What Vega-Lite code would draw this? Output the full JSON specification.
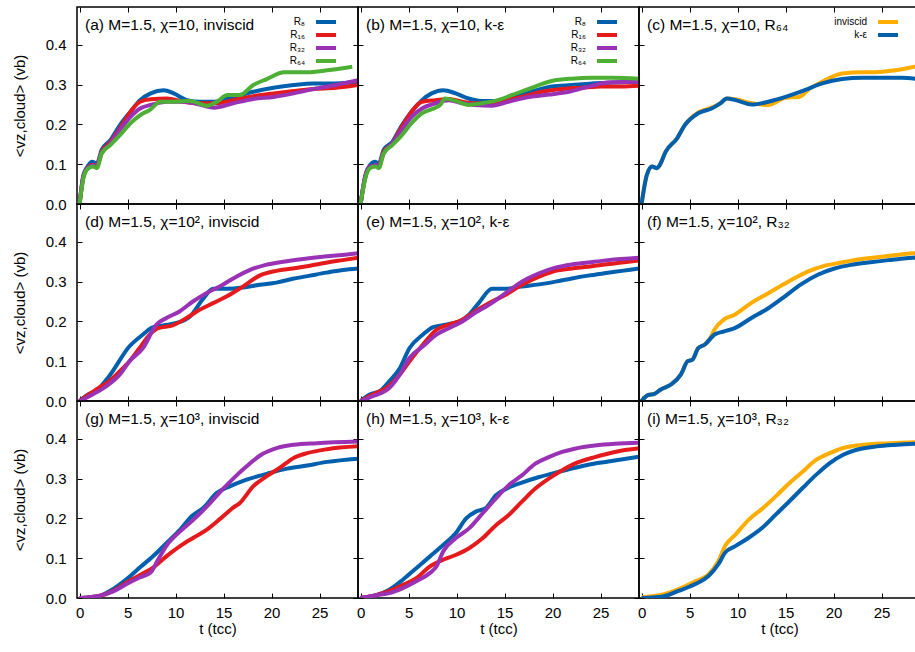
{
"$schema": "https://vega.github.io/schema/vega-lite/v6.json",
"background": "white",
"padding": {"left": 11, "top": 5, "right": 0, "bottom": 0},
"datasets": {"curves": [
{"p":"a","s":"R₈","t":0,"v":0},{"p":"a","s":"R₈","t":0.4,"v":0.073},{"p":"a","s":"R₈","t":0.83,"v":0.094},{"p":"a","s":"R₈","t":1.3,"v":0.106},{"p":"a","s":"R₈","t":1.8,"v":0.102},{"p":"a","s":"R₈","t":2.3,"v":0.136},{"p":"a","s":"R₈","t":3.2,"v":0.16},{"p":"a","s":"R₈","t":4.2,"v":0.198},{"p":"a","s":"R₈","t":5.3,"v":0.232},{"p":"a","s":"R₈","t":6.3,"v":0.261},{"p":"a","s":"R₈","t":7.4,"v":0.278},{"p":"a","s":"R₈","t":8.75,"v":0.286},{"p":"a","s":"R₈","t":9.8,"v":0.278},{"p":"a","s":"R₈","t":11.2,"v":0.261},{"p":"a","s":"R₈","t":12.6,"v":0.257},{"p":"a","s":"R₈","t":14,"v":0.257},{"p":"a","s":"R₈","t":16,"v":0.269},{"p":"a","s":"R₈","t":18.1,"v":0.282},{"p":"a","s":"R₈","t":20.2,"v":0.292},{"p":"a","s":"R₈","t":22.3,"v":0.299},{"p":"a","s":"R₈","t":24.4,"v":0.303},{"p":"a","s":"R₈","t":26.7,"v":0.303},{"p":"a","s":"R₈","t":29,"v":0.307},
{"p":"a","s":"R₁₆","t":0,"v":0},{"p":"a","s":"R₁₆","t":0.4,"v":0.069},{"p":"a","s":"R₁₆","t":0.83,"v":0.09},{"p":"a","s":"R₁₆","t":1.3,"v":0.098},{"p":"a","s":"R₁₆","t":1.8,"v":0.098},{"p":"a","s":"R₁₆","t":2.3,"v":0.131},{"p":"a","s":"R₁₆","t":3.2,"v":0.156},{"p":"a","s":"R₁₆","t":4.2,"v":0.19},{"p":"a","s":"R₁₆","t":5.3,"v":0.232},{"p":"a","s":"R₁₆","t":6.3,"v":0.257},{"p":"a","s":"R₁₆","t":7.4,"v":0.263},{"p":"a","s":"R₁₆","t":9.1,"v":0.265},{"p":"a","s":"R₁₆","t":10.8,"v":0.257},{"p":"a","s":"R₁₆","t":12.6,"v":0.253},{"p":"a","s":"R₁₆","t":14.3,"v":0.253},{"p":"a","s":"R₁₆","t":16,"v":0.261},{"p":"a","s":"R₁₆","t":18.1,"v":0.271},{"p":"a","s":"R₁₆","t":20.2,"v":0.278},{"p":"a","s":"R₁₆","t":22.3,"v":0.284},{"p":"a","s":"R₁₆","t":24.4,"v":0.289},{"p":"a","s":"R₁₆","t":26.7,"v":0.292},{"p":"a","s":"R₁₆","t":29,"v":0.299},
{"p":"a","s":"R₃₂","t":0,"v":0},{"p":"a","s":"R₃₂","t":0.4,"v":0.069},{"p":"a","s":"R₃₂","t":0.83,"v":0.09},{"p":"a","s":"R₃₂","t":1.3,"v":0.097},{"p":"a","s":"R₃₂","t":1.8,"v":0.097},{"p":"a","s":"R₃₂","t":2.3,"v":0.127},{"p":"a","s":"R₃₂","t":3.2,"v":0.152},{"p":"a","s":"R₃₂","t":4.2,"v":0.186},{"p":"a","s":"R₃₂","t":5.3,"v":0.219},{"p":"a","s":"R₃₂","t":6.3,"v":0.24},{"p":"a","s":"R₃₂","t":7.4,"v":0.249},{"p":"a","s":"R₃₂","t":9.1,"v":0.257},{"p":"a","s":"R₃₂","t":10.8,"v":0.257},{"p":"a","s":"R₃₂","t":12.6,"v":0.249},{"p":"a","s":"R₃₂","t":14,"v":0.242},{"p":"a","s":"R₃₂","t":16,"v":0.253},{"p":"a","s":"R₃₂","t":18.1,"v":0.264},{"p":"a","s":"R₃₂","t":20.2,"v":0.269},{"p":"a","s":"R₃₂","t":22.3,"v":0.278},{"p":"a","s":"R₃₂","t":24.4,"v":0.289},{"p":"a","s":"R₃₂","t":26.7,"v":0.299},{"p":"a","s":"R₃₂","t":29,"v":0.311},
{"p":"a","s":"R₆₄","t":0,"v":0},{"p":"a","s":"R₆₄","t":0.4,"v":0.065},{"p":"a","s":"R₆₄","t":0.83,"v":0.088},{"p":"a","s":"R₆₄","t":1.4,"v":0.094},{"p":"a","s":"R₆₄","t":1.8,"v":0.09},{"p":"a","s":"R₆₄","t":2.3,"v":0.127},{"p":"a","s":"R₆₄","t":3.2,"v":0.148},{"p":"a","s":"R₆₄","t":4.2,"v":0.173},{"p":"a","s":"R₆₄","t":5.3,"v":0.203},{"p":"a","s":"R₆₄","t":6.3,"v":0.223},{"p":"a","s":"R₆₄","t":7.4,"v":0.238},{"p":"a","s":"R₆₄","t":8.4,"v":0.257},{"p":"a","s":"R₆₄","t":9.8,"v":0.257},{"p":"a","s":"R₆₄","t":11.5,"v":0.259},{"p":"a","s":"R₆₄","t":13.3,"v":0.247},{"p":"a","s":"R₆₄","t":14.3,"v":0.257},{"p":"a","s":"R₆₄","t":15.4,"v":0.274},{"p":"a","s":"R₆₄","t":16.7,"v":0.274},{"p":"a","s":"R₆₄","t":18.1,"v":0.299},{"p":"a","s":"R₆₄","t":19.5,"v":0.314},{"p":"a","s":"R₆₄","t":21.3,"v":0.331},{"p":"a","s":"R₆₄","t":23.7,"v":0.331},{"p":"a","s":"R₆₄","t":25.8,"v":0.336},{"p":"a","s":"R₆₄","t":28.4,"v":0.345},
{"p":"b","s":"R₈","t":0,"v":0},{"p":"b","s":"R₈","t":0.5,"v":0.073},{"p":"b","s":"R₈","t":1,"v":0.098},{"p":"b","s":"R₈","t":1.5,"v":0.106},{"p":"b","s":"R₈","t":1.9,"v":0.102},{"p":"b","s":"R₈","t":2.4,"v":0.136},{"p":"b","s":"R₈","t":3.3,"v":0.156},{"p":"b","s":"R₈","t":4.3,"v":0.198},{"p":"b","s":"R₈","t":5.3,"v":0.232},{"p":"b","s":"R₈","t":6.4,"v":0.261},{"p":"b","s":"R₈","t":7.4,"v":0.278},{"p":"b","s":"R₈","t":8.6,"v":0.286},{"p":"b","s":"R₈","t":9.9,"v":0.278},{"p":"b","s":"R₈","t":11.25,"v":0.265},{"p":"b","s":"R₈","t":12.6,"v":0.259},{"p":"b","s":"R₈","t":14,"v":0.259},{"p":"b","s":"R₈","t":15.8,"v":0.269},{"p":"b","s":"R₈","t":17.8,"v":0.282},{"p":"b","s":"R₈","t":19.9,"v":0.295},{"p":"b","s":"R₈","t":22,"v":0.299},{"p":"b","s":"R₈","t":24.1,"v":0.303},{"p":"b","s":"R₈","t":26.2,"v":0.305},{"p":"b","s":"R₈","t":29,"v":0.307},
{"p":"b","s":"R₁₆","t":0,"v":0},{"p":"b","s":"R₁₆","t":0.5,"v":0.069},{"p":"b","s":"R₁₆","t":1,"v":0.094},{"p":"b","s":"R₁₆","t":1.9,"v":0.098},{"p":"b","s":"R₁₆","t":2.4,"v":0.131},{"p":"b","s":"R₁₆","t":3.3,"v":0.152},{"p":"b","s":"R₁₆","t":4.3,"v":0.194},{"p":"b","s":"R₁₆","t":5.3,"v":0.232},{"p":"b","s":"R₁₆","t":6.4,"v":0.257},{"p":"b","s":"R₁₆","t":7.8,"v":0.261},{"p":"b","s":"R₁₆","t":9.2,"v":0.264},{"p":"b","s":"R₁₆","t":10.6,"v":0.257},{"p":"b","s":"R₁₆","t":11.9,"v":0.253},{"p":"b","s":"R₁₆","t":13.3,"v":0.253},{"p":"b","s":"R₁₆","t":15.1,"v":0.261},{"p":"b","s":"R₁₆","t":16.8,"v":0.269},{"p":"b","s":"R₁₆","t":18.9,"v":0.282},{"p":"b","s":"R₁₆","t":21,"v":0.289},{"p":"b","s":"R₁₆","t":23,"v":0.292},{"p":"b","s":"R₁₆","t":25.1,"v":0.295},{"p":"b","s":"R₁₆","t":27.2,"v":0.295},{"p":"b","s":"R₁₆","t":29,"v":0.297},
{"p":"b","s":"R₃₂","t":0,"v":0},{"p":"b","s":"R₃₂","t":0.5,"v":0.069},{"p":"b","s":"R₃₂","t":1,"v":0.094},{"p":"b","s":"R₃₂","t":1.9,"v":0.098},{"p":"b","s":"R₃₂","t":2.4,"v":0.127},{"p":"b","s":"R₃₂","t":3.3,"v":0.152},{"p":"b","s":"R₃₂","t":4.3,"v":0.186},{"p":"b","s":"R₃₂","t":5.3,"v":0.219},{"p":"b","s":"R₃₂","t":6.4,"v":0.24},{"p":"b","s":"R₃₂","t":7.8,"v":0.253},{"p":"b","s":"R₃₂","t":9.2,"v":0.261},{"p":"b","s":"R₃₂","t":10.6,"v":0.253},{"p":"b","s":"R₃₂","t":11.9,"v":0.249},{"p":"b","s":"R₃₂","t":13.7,"v":0.247},{"p":"b","s":"R₃₂","t":15.4,"v":0.257},{"p":"b","s":"R₃₂","t":17.5,"v":0.269},{"p":"b","s":"R₃₂","t":19.6,"v":0.275},{"p":"b","s":"R₃₂","t":21.7,"v":0.282},{"p":"b","s":"R₃₂","t":23.75,"v":0.295},{"p":"b","s":"R₃₂","t":25.8,"v":0.305},{"p":"b","s":"R₃₂","t":29,"v":0.307},
{"p":"b","s":"R₆₄","t":0,"v":0},{"p":"b","s":"R₆₄","t":0.5,"v":0.065},{"p":"b","s":"R₆₄","t":1,"v":0.09},{"p":"b","s":"R₆₄","t":1.5,"v":0.094},{"p":"b","s":"R₆₄","t":1.9,"v":0.09},{"p":"b","s":"R₆₄","t":2.4,"v":0.127},{"p":"b","s":"R₆₄","t":3.3,"v":0.148},{"p":"b","s":"R₆₄","t":4.3,"v":0.173},{"p":"b","s":"R₆₄","t":5.3,"v":0.203},{"p":"b","s":"R₆₄","t":6.4,"v":0.228},{"p":"b","s":"R₆₄","t":7.4,"v":0.238},{"p":"b","s":"R₆₄","t":8.3,"v":0.249},{"p":"b","s":"R₆₄","t":8.8,"v":0.265},{"p":"b","s":"R₆₄","t":9.9,"v":0.259},{"p":"b","s":"R₆₄","t":11.25,"v":0.249},{"p":"b","s":"R₆₄","t":12.6,"v":0.253},{"p":"b","s":"R₆₄","t":14,"v":0.259},{"p":"b","s":"R₆₄","t":15.8,"v":0.274},{"p":"b","s":"R₆₄","t":17.8,"v":0.292},{"p":"b","s":"R₆₄","t":19.9,"v":0.309},{"p":"b","s":"R₆₄","t":22,"v":0.315},{"p":"b","s":"R₆₄","t":24.1,"v":0.317},{"p":"b","s":"R₆₄","t":26.2,"v":0.317},{"p":"b","s":"R₆₄","t":29,"v":0.315},
{"p":"c","s":"inviscid","t":0,"v":0},{"p":"c","s":"inviscid","t":0.55,"v":0.073},{"p":"c","s":"inviscid","t":1.1,"v":0.094},{"p":"c","s":"inviscid","t":1.6,"v":0.09},{"p":"c","s":"inviscid","t":1.9,"v":0.098},{"p":"c","s":"inviscid","t":2.5,"v":0.131},{"p":"c","s":"inviscid","t":3.7,"v":0.165},{"p":"c","s":"inviscid","t":4.5,"v":0.198},{"p":"c","s":"inviscid","t":5.9,"v":0.23},{"p":"c","s":"inviscid","t":7.3,"v":0.242},{"p":"c","s":"inviscid","t":8.2,"v":0.253},{"p":"c","s":"inviscid","t":8.9,"v":0.265},{"p":"c","s":"inviscid","t":9.8,"v":0.263},{"p":"c","s":"inviscid","t":11.5,"v":0.253},{"p":"c","s":"inviscid","t":13.2,"v":0.249},{"p":"c","s":"inviscid","t":15,"v":0.267},{"p":"c","s":"inviscid","t":16.4,"v":0.269},{"p":"c","s":"inviscid","t":17.5,"v":0.29},{"p":"c","s":"inviscid","t":18.8,"v":0.307},{"p":"c","s":"inviscid","t":20.9,"v":0.328},{"p":"c","s":"inviscid","t":23,"v":0.331},{"p":"c","s":"inviscid","t":24.3,"v":0.331},{"p":"c","s":"inviscid","t":26.4,"v":0.336},{"p":"c","s":"inviscid","t":28.5,"v":0.345},{"p":"c","s":"inviscid","t":29,"v":0.347},
{"p":"c","s":"k-ε","t":0,"v":0},{"p":"c","s":"k-ε","t":0.55,"v":0.073},{"p":"c","s":"k-ε","t":1.1,"v":0.094},{"p":"c","s":"k-ε","t":1.6,"v":0.09},{"p":"c","s":"k-ε","t":1.9,"v":0.098},{"p":"c","s":"k-ε","t":2.5,"v":0.131},{"p":"c","s":"k-ε","t":3.7,"v":0.165},{"p":"c","s":"k-ε","t":4.5,"v":0.198},{"p":"c","s":"k-ε","t":5.9,"v":0.228},{"p":"c","s":"k-ε","t":7.3,"v":0.24},{"p":"c","s":"k-ε","t":8.2,"v":0.253},{"p":"c","s":"k-ε","t":8.9,"v":0.265},{"p":"c","s":"k-ε","t":9.8,"v":0.261},{"p":"c","s":"k-ε","t":11.5,"v":0.25},{"p":"c","s":"k-ε","t":13.2,"v":0.257},{"p":"c","s":"k-ε","t":15,"v":0.269},{"p":"c","s":"k-ε","t":17,"v":0.286},{"p":"c","s":"k-ε","t":18.8,"v":0.303},{"p":"c","s":"k-ε","t":20.9,"v":0.314},{"p":"c","s":"k-ε","t":23,"v":0.317},{"p":"c","s":"k-ε","t":25,"v":0.317},{"p":"c","s":"k-ε","t":27.1,"v":0.317},{"p":"c","s":"k-ε","t":29,"v":0.313},
{"p":"d","s":"R₈","t":0,"v":0},{"p":"d","s":"R₈","t":1,"v":0.018},{"p":"d","s":"R₈","t":1.7,"v":0.025},{"p":"d","s":"R₈","t":3.1,"v":0.063},{"p":"d","s":"R₈","t":5.2,"v":0.1375},{"p":"d","s":"R₈","t":6.6,"v":0.167},{"p":"d","s":"R₈","t":7.6,"v":0.185},{"p":"d","s":"R₈","t":8.7,"v":0.19},{"p":"d","s":"R₈","t":10.1,"v":0.196},{"p":"d","s":"R₈","t":11.5,"v":0.2125},{"p":"d","s":"R₈","t":12.9,"v":0.258},{"p":"d","s":"R₈","t":13.9,"v":0.282},{"p":"d","s":"R₈","t":15.3,"v":0.282},{"p":"d","s":"R₈","t":17,"v":0.285},{"p":"d","s":"R₈","t":18.75,"v":0.292},{"p":"d","s":"R₈","t":20.5,"v":0.2975},{"p":"d","s":"R₈","t":22.2,"v":0.307},{"p":"d","s":"R₈","t":24,"v":0.315},{"p":"d","s":"R₈","t":25.7,"v":0.3225},{"p":"d","s":"R₈","t":27.4,"v":0.329},{"p":"d","s":"R₈","t":29,"v":0.333},
{"p":"d","s":"R₁₆","t":0,"v":0},{"p":"d","s":"R₁₆","t":1,"v":0.017},{"p":"d","s":"R₁₆","t":2.1,"v":0.035},{"p":"d","s":"R₁₆","t":3.1,"v":0.05},{"p":"d","s":"R₁₆","t":4.2,"v":0.075},{"p":"d","s":"R₁₆","t":5.2,"v":0.1},{"p":"d","s":"R₁₆","t":6.25,"v":0.133},{"p":"d","s":"R₁₆","t":7.3,"v":0.167},{"p":"d","s":"R₁₆","t":8.2,"v":0.183},{"p":"d","s":"R₁₆","t":9.7,"v":0.19},{"p":"d","s":"R₁₆","t":11.1,"v":0.208},{"p":"d","s":"R₁₆","t":12.5,"v":0.229},{"p":"d","s":"R₁₆","t":13.9,"v":0.246},{"p":"d","s":"R₁₆","t":15.3,"v":0.2625},{"p":"d","s":"R₁₆","t":17,"v":0.2875},{"p":"d","s":"R₁₆","t":18.75,"v":0.315},{"p":"d","s":"R₁₆","t":20.5,"v":0.327},{"p":"d","s":"R₁₆","t":22.2,"v":0.333},{"p":"d","s":"R₁₆","t":24,"v":0.34},{"p":"d","s":"R₁₆","t":25.7,"v":0.3475},{"p":"d","s":"R₁₆","t":27.4,"v":0.354},{"p":"d","s":"R₁₆","t":29,"v":0.36},
{"p":"d","s":"R₃₂","t":0,"v":0},{"p":"d","s":"R₃₂","t":1.4,"v":0.017},{"p":"d","s":"R₃₂","t":2.8,"v":0.0375},{"p":"d","s":"R₃₂","t":4.2,"v":0.067},{"p":"d","s":"R₃₂","t":5.2,"v":0.1},{"p":"d","s":"R₃₂","t":6.6,"v":0.133},{"p":"d","s":"R₃₂","t":8,"v":0.192},{"p":"d","s":"R₃₂","t":9,"v":0.208},{"p":"d","s":"R₃₂","t":10.4,"v":0.225},{"p":"d","s":"R₃₂","t":11.8,"v":0.25},{"p":"d","s":"R₃₂","t":13.2,"v":0.271},{"p":"d","s":"R₃₂","t":14.6,"v":0.2875},{"p":"d","s":"R₃₂","t":16,"v":0.308},{"p":"d","s":"R₃₂","t":17.7,"v":0.329},{"p":"d","s":"R₃₂","t":19.4,"v":0.342},{"p":"d","s":"R₃₂","t":21.2,"v":0.35},{"p":"d","s":"R₃₂","t":23.3,"v":0.357},{"p":"d","s":"R₃₂","t":25.3,"v":0.3625},{"p":"d","s":"R₃₂","t":27.4,"v":0.367},{"p":"d","s":"R₃₂","t":29,"v":0.371},
{"p":"e","s":"R₈","t":0,"v":0},{"p":"e","s":"R₈","t":1,"v":0.017},{"p":"e","s":"R₈","t":2,"v":0.025},{"p":"e","s":"R₈","t":3,"v":0.05},{"p":"e","s":"R₈","t":4.1,"v":0.083},{"p":"e","s":"R₈","t":5.1,"v":0.133},{"p":"e","s":"R₈","t":6.5,"v":0.167},{"p":"e","s":"R₈","t":7.5,"v":0.185},{"p":"e","s":"R₈","t":8.9,"v":0.192},{"p":"e","s":"R₈","t":10.3,"v":0.2},{"p":"e","s":"R₈","t":11.3,"v":0.217},{"p":"e","s":"R₈","t":12.3,"v":0.246},{"p":"e","s":"R₈","t":13.7,"v":0.282},{"p":"e","s":"R₈","t":15.1,"v":0.282},{"p":"e","s":"R₈","t":16.8,"v":0.2875},{"p":"e","s":"R₈","t":18.6,"v":0.293},{"p":"e","s":"R₈","t":20.3,"v":0.3},{"p":"e","s":"R₈","t":22,"v":0.308},{"p":"e","s":"R₈","t":23.7,"v":0.315},{"p":"e","s":"R₈","t":25.4,"v":0.321},{"p":"e","s":"R₈","t":27.2,"v":0.327},{"p":"e","s":"R₈","t":29,"v":0.333},
{"p":"e","s":"R₁₆","t":0,"v":0},{"p":"e","s":"R₁₆","t":1.3,"v":0.017},{"p":"e","s":"R₁₆","t":2.7,"v":0.033},{"p":"e","s":"R₁₆","t":4.1,"v":0.067},{"p":"e","s":"R₁₆","t":5.1,"v":0.1},{"p":"e","s":"R₁₆","t":6.5,"v":0.142},{"p":"e","s":"R₁₆","t":7.9,"v":0.179},{"p":"e","s":"R₁₆","t":9.2,"v":0.192},{"p":"e","s":"R₁₆","t":10.6,"v":0.204},{"p":"e","s":"R₁₆","t":11.9,"v":0.225},{"p":"e","s":"R₁₆","t":13.4,"v":0.246},{"p":"e","s":"R₁₆","t":15.1,"v":0.267},{"p":"e","s":"R₁₆","t":16.8,"v":0.292},{"p":"e","s":"R₁₆","t":18.6,"v":0.3125},{"p":"e","s":"R₁₆","t":20.3,"v":0.327},{"p":"e","s":"R₁₆","t":22,"v":0.333},{"p":"e","s":"R₁₆","t":23.7,"v":0.3375},{"p":"e","s":"R₁₆","t":25.4,"v":0.343},{"p":"e","s":"R₁₆","t":27.2,"v":0.348},{"p":"e","s":"R₁₆","t":29,"v":0.353},
{"p":"e","s":"R₃₂","t":0,"v":0},{"p":"e","s":"R₃₂","t":1.3,"v":0.0125},{"p":"e","s":"R₃₂","t":3,"v":0.033},{"p":"e","s":"R₃₂","t":4.1,"v":0.067},{"p":"e","s":"R₃₂","t":5.1,"v":0.108},{"p":"e","s":"R₃₂","t":6.5,"v":0.1375},{"p":"e","s":"R₃₂","t":7.9,"v":0.167},{"p":"e","s":"R₃₂","t":9.2,"v":0.183},{"p":"e","s":"R₃₂","t":10.6,"v":0.2},{"p":"e","s":"R₃₂","t":11.9,"v":0.221},{"p":"e","s":"R₃₂","t":13.4,"v":0.242},{"p":"e","s":"R₃₂","t":15.1,"v":0.271},{"p":"e","s":"R₃₂","t":16.8,"v":0.3},{"p":"e","s":"R₃₂","t":18.6,"v":0.321},{"p":"e","s":"R₃₂","t":20.3,"v":0.335},{"p":"e","s":"R₃₂","t":22,"v":0.343},{"p":"e","s":"R₃₂","t":23.7,"v":0.348},{"p":"e","s":"R₃₂","t":25.8,"v":0.354},{"p":"e","s":"R₃₂","t":29,"v":0.36},
{"p":"f","s":"inviscid","t":0,"v":0},{"p":"f","s":"inviscid","t":0.66,"v":0.015},{"p":"f","s":"inviscid","t":1.35,"v":0.018},{"p":"f","s":"inviscid","t":2,"v":0.029},{"p":"f","s":"inviscid","t":3.1,"v":0.042},{"p":"f","s":"inviscid","t":4.1,"v":0.067},{"p":"f","s":"inviscid","t":4.8,"v":0.1},{"p":"f","s":"inviscid","t":5.3,"v":0.104},{"p":"f","s":"inviscid","t":5.9,"v":0.133},{"p":"f","s":"inviscid","t":6.6,"v":0.142},{"p":"f","s":"inviscid","t":7.2,"v":0.16},{"p":"f","s":"inviscid","t":7.6,"v":0.18},{"p":"f","s":"inviscid","t":8.6,"v":0.205},{"p":"f","s":"inviscid","t":9.7,"v":0.217},{"p":"f","s":"inviscid","t":11.4,"v":0.246},{"p":"f","s":"inviscid","t":13.2,"v":0.271},{"p":"f","s":"inviscid","t":14.2,"v":0.285},{"p":"f","s":"inviscid","t":15.6,"v":0.304},{"p":"f","s":"inviscid","t":17.3,"v":0.325},{"p":"f","s":"inviscid","t":19.1,"v":0.34},{"p":"f","s":"inviscid","t":20.8,"v":0.348},{"p":"f","s":"inviscid","t":22.9,"v":0.357},{"p":"f","s":"inviscid","t":25,"v":0.3625},{"p":"f","s":"inviscid","t":28.3,"v":0.371},{"p":"f","s":"inviscid","t":29,"v":0.372},
{"p":"f","s":"k-ε","t":0,"v":0},{"p":"f","s":"k-ε","t":0.66,"v":0.015},{"p":"f","s":"k-ε","t":1.35,"v":0.018},{"p":"f","s":"k-ε","t":2,"v":0.029},{"p":"f","s":"k-ε","t":3.1,"v":0.042},{"p":"f","s":"k-ε","t":4.1,"v":0.067},{"p":"f","s":"k-ε","t":4.8,"v":0.1},{"p":"f","s":"k-ε","t":5.3,"v":0.104},{"p":"f","s":"k-ε","t":5.9,"v":0.133},{"p":"f","s":"k-ε","t":6.6,"v":0.142},{"p":"f","s":"k-ε","t":7.6,"v":0.167},{"p":"f","s":"k-ε","t":8.6,"v":0.175},{"p":"f","s":"k-ε","t":9.7,"v":0.183},{"p":"f","s":"k-ε","t":11.4,"v":0.208},{"p":"f","s":"k-ε","t":13.2,"v":0.233},{"p":"f","s":"k-ε","t":14.9,"v":0.2625},{"p":"f","s":"k-ε","t":16.6,"v":0.293},{"p":"f","s":"k-ε","t":18.4,"v":0.318},{"p":"f","s":"k-ε","t":20.1,"v":0.333},{"p":"f","s":"k-ε","t":21.8,"v":0.342},{"p":"f","s":"k-ε","t":23.6,"v":0.348},{"p":"f","s":"k-ε","t":25.7,"v":0.354},{"p":"f","s":"k-ε","t":28.3,"v":0.36},{"p":"f","s":"k-ε","t":29,"v":0.361},
{"p":"g","s":"R₈","t":0,"v":0},{"p":"g","s":"R₈","t":2.15,"v":0.006},{"p":"g","s":"R₈","t":3.5,"v":0.0225},{"p":"g","s":"R₈","t":4.9,"v":0.0475},{"p":"g","s":"R₈","t":6.3,"v":0.077},{"p":"g","s":"R₈","t":7.7,"v":0.106},{"p":"g","s":"R₈","t":9.1,"v":0.139},{"p":"g","s":"R₈","t":10.5,"v":0.1725},{"p":"g","s":"R₈","t":11.7,"v":0.206},{"p":"g","s":"R₈","t":12.9,"v":0.227},{"p":"g","s":"R₈","t":14.3,"v":0.264},{"p":"g","s":"R₈","t":15.7,"v":0.281},{"p":"g","s":"R₈","t":17.4,"v":0.2975},{"p":"g","s":"R₈","t":19.5,"v":0.312},{"p":"g","s":"R₈","t":21.6,"v":0.325},{"p":"g","s":"R₈","t":23.7,"v":0.333},{"p":"g","s":"R₈","t":25.8,"v":0.342},{"p":"g","s":"R₈","t":29,"v":0.35},
{"p":"g","s":"R₁₆","t":0,"v":0},{"p":"g","s":"R₁₆","t":2.15,"v":0.006},{"p":"g","s":"R₁₆","t":3.5,"v":0.018},{"p":"g","s":"R₁₆","t":4.9,"v":0.039},{"p":"g","s":"R₁₆","t":6.3,"v":0.058},{"p":"g","s":"R₁₆","t":7.7,"v":0.077},{"p":"g","s":"R₁₆","t":9.1,"v":0.106},{"p":"g","s":"R₁₆","t":10.5,"v":0.131},{"p":"g","s":"R₁₆","t":11.9,"v":0.152},{"p":"g","s":"R₁₆","t":13.3,"v":0.1725},{"p":"g","s":"R₁₆","t":14.7,"v":0.2},{"p":"g","s":"R₁₆","t":16,"v":0.227},{"p":"g","s":"R₁₆","t":16.7,"v":0.239},{"p":"g","s":"R₁₆","t":18.1,"v":0.281},{"p":"g","s":"R₁₆","t":19.5,"v":0.306},{"p":"g","s":"R₁₆","t":20.9,"v":0.328},{"p":"g","s":"R₁₆","t":22.3,"v":0.352},{"p":"g","s":"R₁₆","t":23.7,"v":0.364},{"p":"g","s":"R₁₆","t":25.8,"v":0.374},{"p":"g","s":"R₁₆","t":29,"v":0.381},
{"p":"g","s":"R₃₂","t":0,"v":0},{"p":"g","s":"R₃₂","t":2.15,"v":0.006},{"p":"g","s":"R₃₂","t":3.5,"v":0.0167},{"p":"g","s":"R₃₂","t":4.9,"v":0.035},{"p":"g","s":"R₃₂","t":6.3,"v":0.052},{"p":"g","s":"R₃₂","t":7.4,"v":0.064},{"p":"g","s":"R₃₂","t":8.1,"v":0.093},{"p":"g","s":"R₃₂","t":9.1,"v":0.133},{"p":"g","s":"R₃₂","t":10.5,"v":0.168},{"p":"g","s":"R₃₂","t":11.9,"v":0.1975},{"p":"g","s":"R₃₂","t":13.3,"v":0.231},{"p":"g","s":"R₃₂","t":14.7,"v":0.268},{"p":"g","s":"R₃₂","t":16,"v":0.3},{"p":"g","s":"R₃₂","t":17.4,"v":0.331},{"p":"g","s":"R₃₂","t":18.8,"v":0.358},{"p":"g","s":"R₃₂","t":20.6,"v":0.377},{"p":"g","s":"R₃₂","t":22.3,"v":0.385},{"p":"g","s":"R₃₂","t":24.7,"v":0.389},{"p":"g","s":"R₃₂","t":29,"v":0.393},
{"p":"h","s":"R₈","t":0,"v":0},{"p":"h","s":"R₈","t":1.7,"v":0.008},{"p":"h","s":"R₈","t":3,"v":0.021},{"p":"h","s":"R₈","t":4.4,"v":0.046},{"p":"h","s":"R₈","t":5.8,"v":0.075},{"p":"h","s":"R₈","t":7.2,"v":0.104},{"p":"h","s":"R₈","t":8.6,"v":0.133},{"p":"h","s":"R₈","t":9.9,"v":0.1625},{"p":"h","s":"R₈","t":11,"v":0.2},{"p":"h","s":"R₈","t":12,"v":0.217},{"p":"h","s":"R₈","t":13,"v":0.225},{"p":"h","s":"R₈","t":14.1,"v":0.258},{"p":"h","s":"R₈","t":15.4,"v":0.277},{"p":"h","s":"R₈","t":16.8,"v":0.29},{"p":"h","s":"R₈","t":18.6,"v":0.304},{"p":"h","s":"R₈","t":20.3,"v":0.315},{"p":"h","s":"R₈","t":22,"v":0.325},{"p":"h","s":"R₈","t":23.7,"v":0.335},{"p":"h","s":"R₈","t":25.8,"v":0.343},{"p":"h","s":"R₈","t":29,"v":0.355},
{"p":"h","s":"R₁₆","t":0,"v":0},{"p":"h","s":"R₁₆","t":1.7,"v":0.008},{"p":"h","s":"R₁₆","t":3,"v":0.018},{"p":"h","s":"R₁₆","t":4.4,"v":0.033},{"p":"h","s":"R₁₆","t":5.8,"v":0.05},{"p":"h","s":"R₁₆","t":7.2,"v":0.079},{"p":"h","s":"R₁₆","t":8.6,"v":0.096},{"p":"h","s":"R₁₆","t":9.9,"v":0.108},{"p":"h","s":"R₁₆","t":11.3,"v":0.125},{"p":"h","s":"R₁₆","t":12.7,"v":0.15},{"p":"h","s":"R₁₆","t":14.1,"v":0.183},{"p":"h","s":"R₁₆","t":15.4,"v":0.208},{"p":"h","s":"R₁₆","t":16.8,"v":0.242},{"p":"h","s":"R₁₆","t":18.2,"v":0.275},{"p":"h","s":"R₁₆","t":19.6,"v":0.3},{"p":"h","s":"R₁₆","t":21,"v":0.321},{"p":"h","s":"R₁₆","t":22.3,"v":0.3375},{"p":"h","s":"R₁₆","t":24.4,"v":0.354},{"p":"h","s":"R₁₆","t":26.5,"v":0.367},{"p":"h","s":"R₁₆","t":29,"v":0.376},
{"p":"h","s":"R₃₂","t":0,"v":0},{"p":"h","s":"R₃₂","t":1.7,"v":0.007},{"p":"h","s":"R₃₂","t":3,"v":0.0125},{"p":"h","s":"R₃₂","t":4.4,"v":0.025},{"p":"h","s":"R₃₂","t":5.8,"v":0.042},{"p":"h","s":"R₃₂","t":7.2,"v":0.0625},{"p":"h","s":"R₃₂","t":7.9,"v":0.079},{"p":"h","s":"R₃₂","t":8.6,"v":0.117},{"p":"h","s":"R₃₂","t":9.9,"v":0.15},{"p":"h","s":"R₃₂","t":11.3,"v":0.175},{"p":"h","s":"R₃₂","t":12.7,"v":0.2125},{"p":"h","s":"R₃₂","t":14.1,"v":0.25},{"p":"h","s":"R₃₂","t":15.4,"v":0.283},{"p":"h","s":"R₃₂","t":16.8,"v":0.308},{"p":"h","s":"R₃₂","t":18.2,"v":0.3375},{"p":"h","s":"R₃₂","t":19.6,"v":0.354},{"p":"h","s":"R₃₂","t":21,"v":0.367},{"p":"h","s":"R₃₂","t":22.3,"v":0.375},{"p":"h","s":"R₃₂","t":24.4,"v":0.383},{"p":"h","s":"R₃₂","t":26.5,"v":0.3875},{"p":"h","s":"R₃₂","t":29,"v":0.39},
{"p":"i","s":"inviscid","t":0,"v":0.002},{"p":"i","s":"inviscid","t":2.1,"v":0.008},{"p":"i","s":"inviscid","t":3.85,"v":0.0225},{"p":"i","s":"inviscid","t":5.6,"v":0.042},{"p":"i","s":"inviscid","t":7,"v":0.06},{"p":"i","s":"inviscid","t":8,"v":0.093},{"p":"i","s":"inviscid","t":8.7,"v":0.131},{"p":"i","s":"inviscid","t":9.8,"v":0.16},{"p":"i","s":"inviscid","t":11.2,"v":0.1975},{"p":"i","s":"inviscid","t":12.6,"v":0.225},{"p":"i","s":"inviscid","t":14,"v":0.256},{"p":"i","s":"inviscid","t":15.4,"v":0.289},{"p":"i","s":"inviscid","t":16.8,"v":0.318},{"p":"i","s":"inviscid","t":18.2,"v":0.3475},{"p":"i","s":"inviscid","t":19.6,"v":0.364},{"p":"i","s":"inviscid","t":21,"v":0.377},{"p":"i","s":"inviscid","t":23.1,"v":0.385},{"p":"i","s":"inviscid","t":25.9,"v":0.389},{"p":"i","s":"inviscid","t":29,"v":0.392},
{"p":"i","s":"k-ε","t":0,"v":0},{"p":"i","s":"k-ε","t":2.1,"v":0.003},{"p":"i","s":"k-ε","t":3.85,"v":0.018},{"p":"i","s":"k-ε","t":5.6,"v":0.035},{"p":"i","s":"k-ε","t":7,"v":0.056},{"p":"i","s":"k-ε","t":8,"v":0.085},{"p":"i","s":"k-ε","t":8.7,"v":0.114},{"p":"i","s":"k-ε","t":9.8,"v":0.131},{"p":"i","s":"k-ε","t":11.2,"v":0.152},{"p":"i","s":"k-ε","t":12.6,"v":0.177},{"p":"i","s":"k-ε","t":14,"v":0.21},{"p":"i","s":"k-ε","t":15.4,"v":0.243},{"p":"i","s":"k-ε","t":16.8,"v":0.277},{"p":"i","s":"k-ε","t":18.2,"v":0.31},{"p":"i","s":"k-ε","t":19.6,"v":0.339},{"p":"i","s":"k-ε","t":21,"v":0.36},{"p":"i","s":"k-ε","t":22.4,"v":0.3725},{"p":"i","s":"k-ε","t":24.5,"v":0.381},{"p":"i","s":"k-ε","t":26.6,"v":0.385},{"p":"i","s":"k-ε","t":29,"v":0.388}
]},
"columns": 3,
"spacing": 0,
"bounds": "flush",
"concat": [
{"width":281,"height":197,"title":{"text":"(a) M=1.5, χ=10, inviscid"},"data":{"name":"curves"},"transform":[{"filter":"datum.p === 'a'"}],
 "layer":[
  {"mark":{"type":"line","strokeWidth":4,"interpolate":"monotone","clip":true},
   "encoding":{"x":{"field":"t","type":"quantitative","scale":{"domain":[-0.27,29],"nice":false},"axis":{"values":[0,5,10,15,20,25],"labels":false,"title":null}},
    "y":{"field":"v","type":"quantitative","scale":{"domain":[0,0.495],"nice":false},"axis":{"values":[0,0.1,0.2,0.3,0.4],"format":".1f","title":"<vz,cloud> (vb)","labelPadding":16,"titlePadding":18}},
    "color":{"field":"s","type":"nominal","sort":null,"scale":{"domain":["R₈","R₁₆","R₃₂","R₆₄"],"range":["#0060ad","#e41a1c","#9932b5","#4daf34"]},"legend":{}}}},
  {"mark":{"type":"point","opacity":0},
   "encoding":{"x":{"field":"t","type":"quantitative","scale":{"domain":[-0.27,29],"nice":false},"axis":{"orient":"top","values":[0,5,10,15,20,25],"labels":false,"title":null}},
    "y":{"field":"v","type":"quantitative","scale":{"domain":[0,0.495],"nice":false},"axis":{"orient":"right","values":[0,0.1,0.2,0.3,0.4],"labels":false,"title":null}}}}
 ],"resolve":{"axis":{"x":"independent","y":"independent"}}},
{"width":281,"height":197,"title":{"text":"(b) M=1.5, χ=10, k-ε"},"data":{"name":"curves"},"transform":[{"filter":"datum.p === 'b'"}],
 "layer":[
  {"mark":{"type":"line","strokeWidth":4,"interpolate":"monotone","clip":true},
   "encoding":{"x":{"field":"t","type":"quantitative","scale":{"domain":[-0.27,29],"nice":false},"axis":{"values":[0,5,10,15,20,25],"labels":false,"title":null}},
    "y":{"field":"v","type":"quantitative","scale":{"domain":[0,0.495],"nice":false},"axis":{"values":[0,0.1,0.2,0.3,0.4],"labels":false,"title":null}},
    "color":{"field":"s","type":"nominal","sort":null,"scale":{"domain":["R₈","R₁₆","R₃₂","R₆₄"],"range":["#0060ad","#e41a1c","#9932b5","#4daf34"]},"legend":{}}}},
  {"mark":{"type":"point","opacity":0},
   "encoding":{"x":{"field":"t","type":"quantitative","scale":{"domain":[-0.27,29],"nice":false},"axis":{"orient":"top","values":[0,5,10,15,20,25],"labels":false,"title":null}},
    "y":{"field":"v","type":"quantitative","scale":{"domain":[0,0.495],"nice":false},"axis":{"orient":"right","values":[0,0.1,0.2,0.3,0.4],"labels":false,"title":null}}}}
 ],"resolve":{"axis":{"x":"independent","y":"independent"}}},
{"width":281,"height":197,"title":{"text":"(c) M=1.5, χ=10, R₆₄"},"data":{"name":"curves"},"transform":[{"filter":"datum.p === 'c'"}],
 "layer":[
  {"mark":{"type":"line","strokeWidth":4,"interpolate":"monotone","clip":true},
   "encoding":{"x":{"field":"t","type":"quantitative","scale":{"domain":[-0.27,29],"nice":false},"axis":{"values":[0,5,10,15,20,25],"labels":false,"title":null}},
    "y":{"field":"v","type":"quantitative","scale":{"domain":[0,0.495],"nice":false},"axis":{"values":[0,0.1,0.2,0.3,0.4],"labels":false,"title":null}},
    "color":{"field":"s","type":"nominal","sort":null,"scale":{"domain":["inviscid","k-ε"],"range":["#ffad00","#0060ad"]},"legend":{}}}},
  {"mark":{"type":"point","opacity":0},
   "encoding":{"x":{"field":"t","type":"quantitative","scale":{"domain":[-0.27,29],"nice":false},"axis":{"orient":"top","values":[0,5,10,15,20,25],"labels":false,"title":null}},
    "y":{"field":"v","type":"quantitative","scale":{"domain":[0,0.495],"nice":false},"axis":{"orient":"right","values":[0,0.1,0.2,0.3,0.4],"labels":false,"title":null}}}}
 ],"resolve":{"axis":{"x":"independent","y":"independent"}}},
{"width":281,"height":197,"title":{"text":"(d) M=1.5, χ=10², inviscid"},"data":{"name":"curves"},"transform":[{"filter":"datum.p === 'd'"}],
 "layer":[
  {"mark":{"type":"line","strokeWidth":4,"interpolate":"monotone","clip":true},
   "encoding":{"x":{"field":"t","type":"quantitative","scale":{"domain":[-0.27,29],"nice":false},"axis":{"values":[0,5,10,15,20,25],"labels":false,"title":null}},
    "y":{"field":"v","type":"quantitative","scale":{"domain":[0,0.495],"nice":false},"axis":{"values":[0,0.1,0.2,0.3,0.4],"format":".1f","title":"<vz,cloud> (vb)","labelPadding":16,"titlePadding":18}},
    "color":{"field":"s","type":"nominal","sort":null,"scale":{"domain":["R₈","R₁₆","R₃₂"],"range":["#0060ad","#e41a1c","#9932b5"]},"legend":null}}},
  {"mark":{"type":"point","opacity":0},
   "encoding":{"x":{"field":"t","type":"quantitative","scale":{"domain":[-0.27,29],"nice":false},"axis":{"orient":"top","values":[0,5,10,15,20,25],"labels":false,"title":null}},
    "y":{"field":"v","type":"quantitative","scale":{"domain":[0,0.495],"nice":false},"axis":{"orient":"right","values":[0,0.1,0.2,0.3,0.4],"labels":false,"title":null}}}}
 ],"resolve":{"axis":{"x":"independent","y":"independent"}}},
{"width":281,"height":197,"title":{"text":"(e) M=1.5, χ=10², k-ε"},"data":{"name":"curves"},"transform":[{"filter":"datum.p === 'e'"}],
 "layer":[
  {"mark":{"type":"line","strokeWidth":4,"interpolate":"monotone","clip":true},
   "encoding":{"x":{"field":"t","type":"quantitative","scale":{"domain":[-0.27,29],"nice":false},"axis":{"values":[0,5,10,15,20,25],"labels":false,"title":null}},
    "y":{"field":"v","type":"quantitative","scale":{"domain":[0,0.495],"nice":false},"axis":{"values":[0,0.1,0.2,0.3,0.4],"labels":false,"title":null}},
    "color":{"field":"s","type":"nominal","sort":null,"scale":{"domain":["R₈","R₁₆","R₃₂"],"range":["#0060ad","#e41a1c","#9932b5"]},"legend":null}}},
  {"mark":{"type":"point","opacity":0},
   "encoding":{"x":{"field":"t","type":"quantitative","scale":{"domain":[-0.27,29],"nice":false},"axis":{"orient":"top","values":[0,5,10,15,20,25],"labels":false,"title":null}},
    "y":{"field":"v","type":"quantitative","scale":{"domain":[0,0.495],"nice":false},"axis":{"orient":"right","values":[0,0.1,0.2,0.3,0.4],"labels":false,"title":null}}}}
 ],"resolve":{"axis":{"x":"independent","y":"independent"}}},
{"width":281,"height":197,"title":{"text":"(f) M=1.5, χ=10², R₃₂"},"data":{"name":"curves"},"transform":[{"filter":"datum.p === 'f'"}],
 "layer":[
  {"mark":{"type":"line","strokeWidth":4,"interpolate":"monotone","clip":true},
   "encoding":{"x":{"field":"t","type":"quantitative","scale":{"domain":[-0.27,29],"nice":false},"axis":{"values":[0,5,10,15,20,25],"labels":false,"title":null}},
    "y":{"field":"v","type":"quantitative","scale":{"domain":[0,0.495],"nice":false},"axis":{"values":[0,0.1,0.2,0.3,0.4],"labels":false,"title":null}},
    "color":{"field":"s","type":"nominal","sort":null,"scale":{"domain":["inviscid","k-ε"],"range":["#ffad00","#0060ad"]},"legend":null}}},
  {"mark":{"type":"point","opacity":0},
   "encoding":{"x":{"field":"t","type":"quantitative","scale":{"domain":[-0.27,29],"nice":false},"axis":{"orient":"top","values":[0,5,10,15,20,25],"labels":false,"title":null}},
    "y":{"field":"v","type":"quantitative","scale":{"domain":[0,0.495],"nice":false},"axis":{"orient":"right","values":[0,0.1,0.2,0.3,0.4],"labels":false,"title":null}}}}
 ],"resolve":{"axis":{"x":"independent","y":"independent"}}},
{"width":281,"height":197,"title":{"text":"(g) M=1.5, χ=10³, inviscid"},"data":{"name":"curves"},"transform":[{"filter":"datum.p === 'g'"}],
 "layer":[
  {"mark":{"type":"line","strokeWidth":4,"interpolate":"monotone","clip":true},
   "encoding":{"x":{"field":"t","type":"quantitative","scale":{"domain":[-0.27,29],"nice":false},"axis":{"values":[0,5,10,15,20,25],"title":"t (tcc)","labelPadding":12,"titlePadding":1}},
    "y":{"field":"v","type":"quantitative","scale":{"domain":[0,0.495],"nice":false},"axis":{"values":[0,0.1,0.2,0.3,0.4],"format":".1f","title":"<vz,cloud> (vb)","labelPadding":16,"titlePadding":18}},
    "color":{"field":"s","type":"nominal","sort":null,"scale":{"domain":["R₈","R₁₆","R₃₂"],"range":["#0060ad","#e41a1c","#9932b5"]},"legend":null}}},
  {"mark":{"type":"point","opacity":0},
   "encoding":{"x":{"field":"t","type":"quantitative","scale":{"domain":[-0.27,29],"nice":false},"axis":{"orient":"top","values":[0,5,10,15,20,25],"labels":false,"title":null}},
    "y":{"field":"v","type":"quantitative","scale":{"domain":[0,0.495],"nice":false},"axis":{"orient":"right","values":[0,0.1,0.2,0.3,0.4],"labels":false,"title":null}}}}
 ],"resolve":{"axis":{"x":"independent","y":"independent"}}},
{"width":281,"height":197,"title":{"text":"(h) M=1.5, χ=10³, k-ε"},"data":{"name":"curves"},"transform":[{"filter":"datum.p === 'h'"}],
 "layer":[
  {"mark":{"type":"line","strokeWidth":4,"interpolate":"monotone","clip":true},
   "encoding":{"x":{"field":"t","type":"quantitative","scale":{"domain":[-0.27,29],"nice":false},"axis":{"values":[0,5,10,15,20,25],"title":"t (tcc)","labelPadding":12,"titlePadding":1}},
    "y":{"field":"v","type":"quantitative","scale":{"domain":[0,0.495],"nice":false},"axis":{"values":[0,0.1,0.2,0.3,0.4],"labels":false,"title":null}},
    "color":{"field":"s","type":"nominal","sort":null,"scale":{"domain":["R₈","R₁₆","R₃₂"],"range":["#0060ad","#e41a1c","#9932b5"]},"legend":null}}},
  {"mark":{"type":"point","opacity":0},
   "encoding":{"x":{"field":"t","type":"quantitative","scale":{"domain":[-0.27,29],"nice":false},"axis":{"orient":"top","values":[0,5,10,15,20,25],"labels":false,"title":null}},
    "y":{"field":"v","type":"quantitative","scale":{"domain":[0,0.495],"nice":false},"axis":{"orient":"right","values":[0,0.1,0.2,0.3,0.4],"labels":false,"title":null}}}}
 ],"resolve":{"axis":{"x":"independent","y":"independent"}}},
{"width":281,"height":197,"title":{"text":"(i) M=1.5, χ=10³, R₃₂"},"data":{"name":"curves"},"transform":[{"filter":"datum.p === 'i'"}],
 "layer":[
  {"mark":{"type":"line","strokeWidth":4,"interpolate":"monotone","clip":true},
   "encoding":{"x":{"field":"t","type":"quantitative","scale":{"domain":[-0.27,29],"nice":false},"axis":{"values":[0,5,10,15,20,25],"title":"t (tcc)","labelPadding":12,"titlePadding":1}},
    "y":{"field":"v","type":"quantitative","scale":{"domain":[0,0.495],"nice":false},"axis":{"values":[0,0.1,0.2,0.3,0.4],"labels":false,"title":null}},
    "color":{"field":"s","type":"nominal","sort":null,"scale":{"domain":["inviscid","k-ε"],"range":["#ffad00","#0060ad"]},"legend":null}}},
  {"mark":{"type":"point","opacity":0},
   "encoding":{"x":{"field":"t","type":"quantitative","scale":{"domain":[-0.27,29],"nice":false},"axis":{"orient":"top","values":[0,5,10,15,20,25],"labels":false,"title":null}},
    "y":{"field":"v","type":"quantitative","scale":{"domain":[0,0.495],"nice":false},"axis":{"orient":"right","values":[0,0.1,0.2,0.3,0.4],"labels":false,"title":null}}}}
 ],"resolve":{"axis":{"x":"independent","y":"independent"}}}
],
"resolve":{"scale":{"color":"independent"},"legend":{"color":"independent"}},
"config":{
 "font":"Liberation Sans",
 "view":{"stroke":"black","strokeWidth":1.5},
 "axis":{"grid":false,"domain":false,"tickSize":-5,"tickColor":"black","tickWidth":1,"labelFont":"Liberation Sans","labelFontSize":15,"labelColor":"black","titleFont":"Liberation Sans","titleFontSize":15,"titleFontWeight":"normal","titleColor":"black"},
 "title":{"anchor":"start","frame":"group","orient":"top","offset":0,"baseline":"top","dx":8,"dy":31,"fontSize":15.5,"fontWeight":"normal","font":"Liberation Sans","color":"black"},
 "legend":{"orient":"none","legendX":244,"legendY":10,"padding":0,"title":null,"labelFont":"Liberation Sans","labelFontSize":10,"labelColor":"black","symbolType":"M-4,0H4","symbolStrokeWidth":4,"symbolSize":25,"rowPadding":-9,"labelAlign":"right","labelOffset":-26}
}
}
